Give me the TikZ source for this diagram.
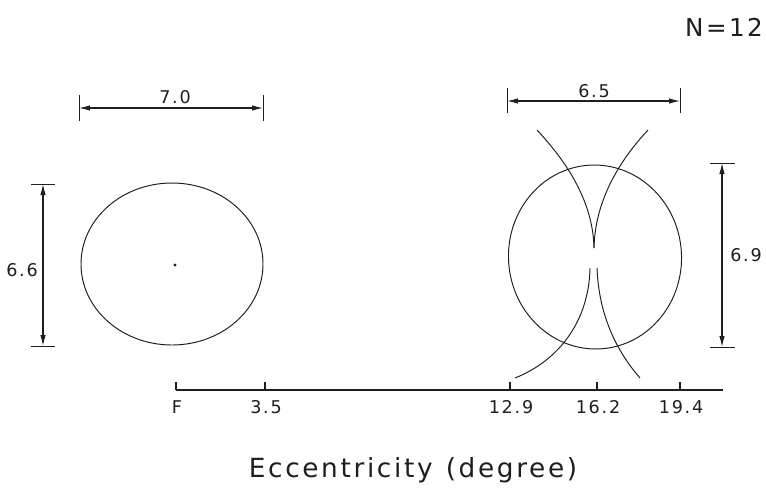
\documentclass[tikz,border=0pt]{standalone}
\usepackage{fontspec}
\setmainfont{DejaVu Sans}
\newfontfamily\widefont[LetterSpace=10]{DejaVu Sans}
\usetikzlibrary{positioning, arrows.meta, calc}
\usepackage{xcolor}
\definecolor{inkline}{HTML}{1E1E1E}

\begin{document}
\begin{tikzpicture}[x=0.02cm, y=-0.02cm, font=\widefont\fontsize{10}{12}\selectfont,
    outline/.style={draw=inkline, line width=0.55pt},
    dimline/.style={draw=inkline, line width=0.6pt, {Latex[length=2.2mm,width=1.1mm]}-{Latex[length=2.2mm,width=1.1mm]}},
    dimbar/.style={draw=inkline, line width=0.5pt},
    dimlabel/.style={text=inkline, inner sep=1pt}]
    \useasboundingbox (0,0) rectangle (766,488);

    % left field (fovea side)
    \draw[outline] (172,264) ellipse [x radius=91, y radius=81];
    \fill[inkline] (175,265) circle [radius=1.6];

    % right field with the blind spot arcs
    \draw[outline] (595,257) ellipse [x radius=86.5, y radius=92, rotate=4];
    \draw[outline] (537,130) .. controls (565,160) and (593,200) .. (594,248);
    \draw[outline] (648,130) .. controls (620,160) and (595,200) .. (594,248);
    \draw[outline] (590,268) .. controls (589,320) and (560,360) .. (515,378);
    \draw[outline] (597,268) .. controls (599,320) and (620,355) .. (640,378);

    % width of left field
    \coordinate (wl1) at (79,108);
    \coordinate (wl2) at (263,108);
    \draw[dimbar] (79,95) -- (79,121) (263,95) -- (263,121);
    \draw[dimline] (wl1) -- (wl2);
    \node[dimlabel] (wl) at (175,97) {7.0};

    % height of left field
    \coordinate (hl1) at (43,184);
    \coordinate (hl2) at (43,346);
    \draw[dimbar] (31,184) -- (55,184) (31,346) -- (55,346);
    \draw[dimline] (hl1) -- (hl2);
    \node[dimlabel] (hl) at (22,270) {6.6};

    % width of right field
    \coordinate (wr1) at (507,101);
    \coordinate (wr2) at (680,101);
    \draw[dimbar] (507,88) -- (507,113) (680,88) -- (680,113);
    \draw[dimline] (wr1) -- (wr2);
    \node[dimlabel] (wr) at (594,91) {6.5};

    % height of right field
    \coordinate (hr1) at (722,163);
    \coordinate (hr2) at (722,347);
    \draw[dimbar] (710,163) -- (735,163) (710,347) -- (735,347);
    \draw[dimline] (hr1) -- (hr2);
    \node[dimlabel] (hr) at (746,255) {6.9};

    % eccentricity axis
    \coordinate (ax0) at (176,390);
    \coordinate (ax1) at (723,390);
    \draw[outline, line width=0.6pt] (ax0) -- (ax1);
    \foreach \xx/\txt/\nm in {176/F/tf, 265/3.5/ta, 510/12.9/tb, 597/16.2/tc, 680/19.4/td} {
        \draw[outline, line width=0.6pt] (\xx,390) -- (\xx,382);
        \node[dimlabel] (\nm) at (\xx+1,407) {\txt};
    }

    \node[text=inkline, font=\widefont\fontsize{15}{18}\selectfont] (ttl) at (413,470)
        {Eccentricity\hspace{0.5em}(degree)};
    \node[text=inkline, font=\widefont\fontsize{14}{16}\selectfont] (nn) at (724,27) {N=12};
\end{tikzpicture}
\end{document}
